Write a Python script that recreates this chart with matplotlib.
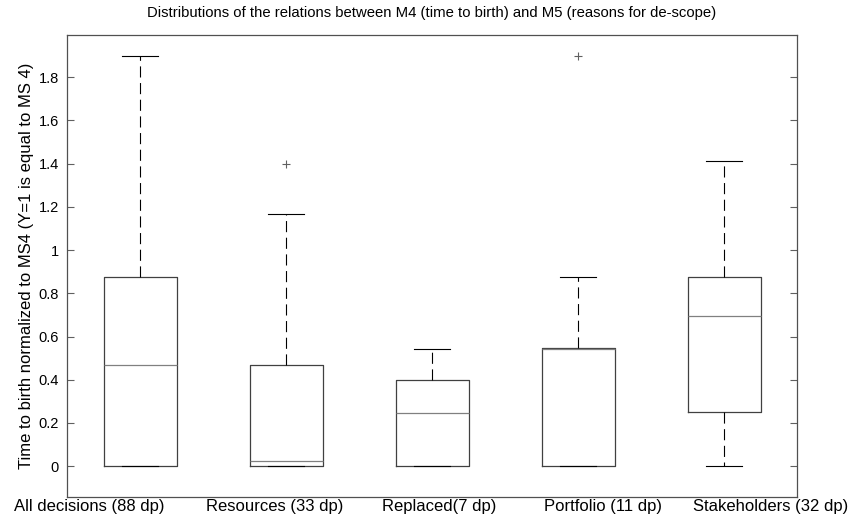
import matplotlib
matplotlib.use("Agg")
import matplotlib.pyplot as plt

plt.rcParams['font.family'] = ['Liberation Sans', 'DejaVu Sans']

# box statistics (time to birth normalized to MS4)
labels = ['All decisions (88 dp)', 'Resources (33 dp)', 'Replaced(7 dp)',
          'Portfolio (11 dp)', 'Stakeholders (32 dp)']
whislo = [0.0, 0.0, 0.0, 0.0, 0.0]
q1 = [0.0, 0.0, 0.0, 0.0, 0.25]
med = [0.47, 0.023, 0.247, 0.54, 0.697]
q3 = [0.875, 0.47, 0.397, 0.549, 0.875]
whishi = [1.9, 1.165, 0.54, 0.875, 1.41]
fliers = [[], [1.4], [], [1.9], []]
yticks = [0, 0.2, 0.4, 0.6, 0.8, 1, 1.2, 1.4, 1.6, 1.8]

stats = []
for i in range(len(labels)):
    stats.append({'label': labels[i], 'whislo': whislo[i], 'q1': q1[i],
                  'med': med[i], 'q3': q3[i], 'whishi': whishi[i],
                  'fliers': fliers[i]})

fig = plt.figure(figsize=(8.57, 5.18), dpi=100)
ax = fig.add_axes([67 / 857, 21 / 518, 730 / 857, 462 / 518])

ax.bxp(stats, positions=range(1, 6), widths=0.5, showfliers=True,
       boxprops=dict(color='#404040', linewidth=0.9),
       medianprops=dict(color='#808080', linewidth=0.9),
       whiskerprops=dict(color='black', linewidth=0.8, linestyle=(0, (10, 5))),
       capprops=dict(color='black', linewidth=0.8),
       capwidths=0.25,
       flierprops=dict(marker='+', markersize=6, markeredgecolor='#606060',
                       markeredgewidth=0.8, linestyle='none'))

ax.set_xlim(0.5, 5.5)
ax.set_ylim(-0.1425, 1.995)
ax.set_yticks(yticks)
ax.set_yticklabels(['0', '0.2', '0.4', '0.6', '0.8', '1', '1.2', '1.4', '1.6', '1.8'])
ax.tick_params(axis='y', direction='in', right=True, length=5, width=0.8,
               color='#606060', labelsize=10.5, pad=6)
ax.set_xticks([])
for s in ax.spines.values():
    s.set_color('#505050')
    s.set_linewidth(0.9)

ax.set_title('Distributions of the relations between M4 (time to birth) and M5 (reasons for de-scope)',
             fontsize=10.7, pad=13)
ax.set_ylabel('Time to birth normalized to MS4 (Y=1 is equal to MS 4)', fontsize=12, labelpad=3)

# category labels as placed in the reference (not centred on the boxes)
label_x = [89, 275, 439, 603, 771]
for lx, lab in zip(label_x, labels):
    fig.text(lx / 857, 11 / 518, lab, ha='center', va='center', fontsize=12)

fig.savefig('out.png', dpi=100)
